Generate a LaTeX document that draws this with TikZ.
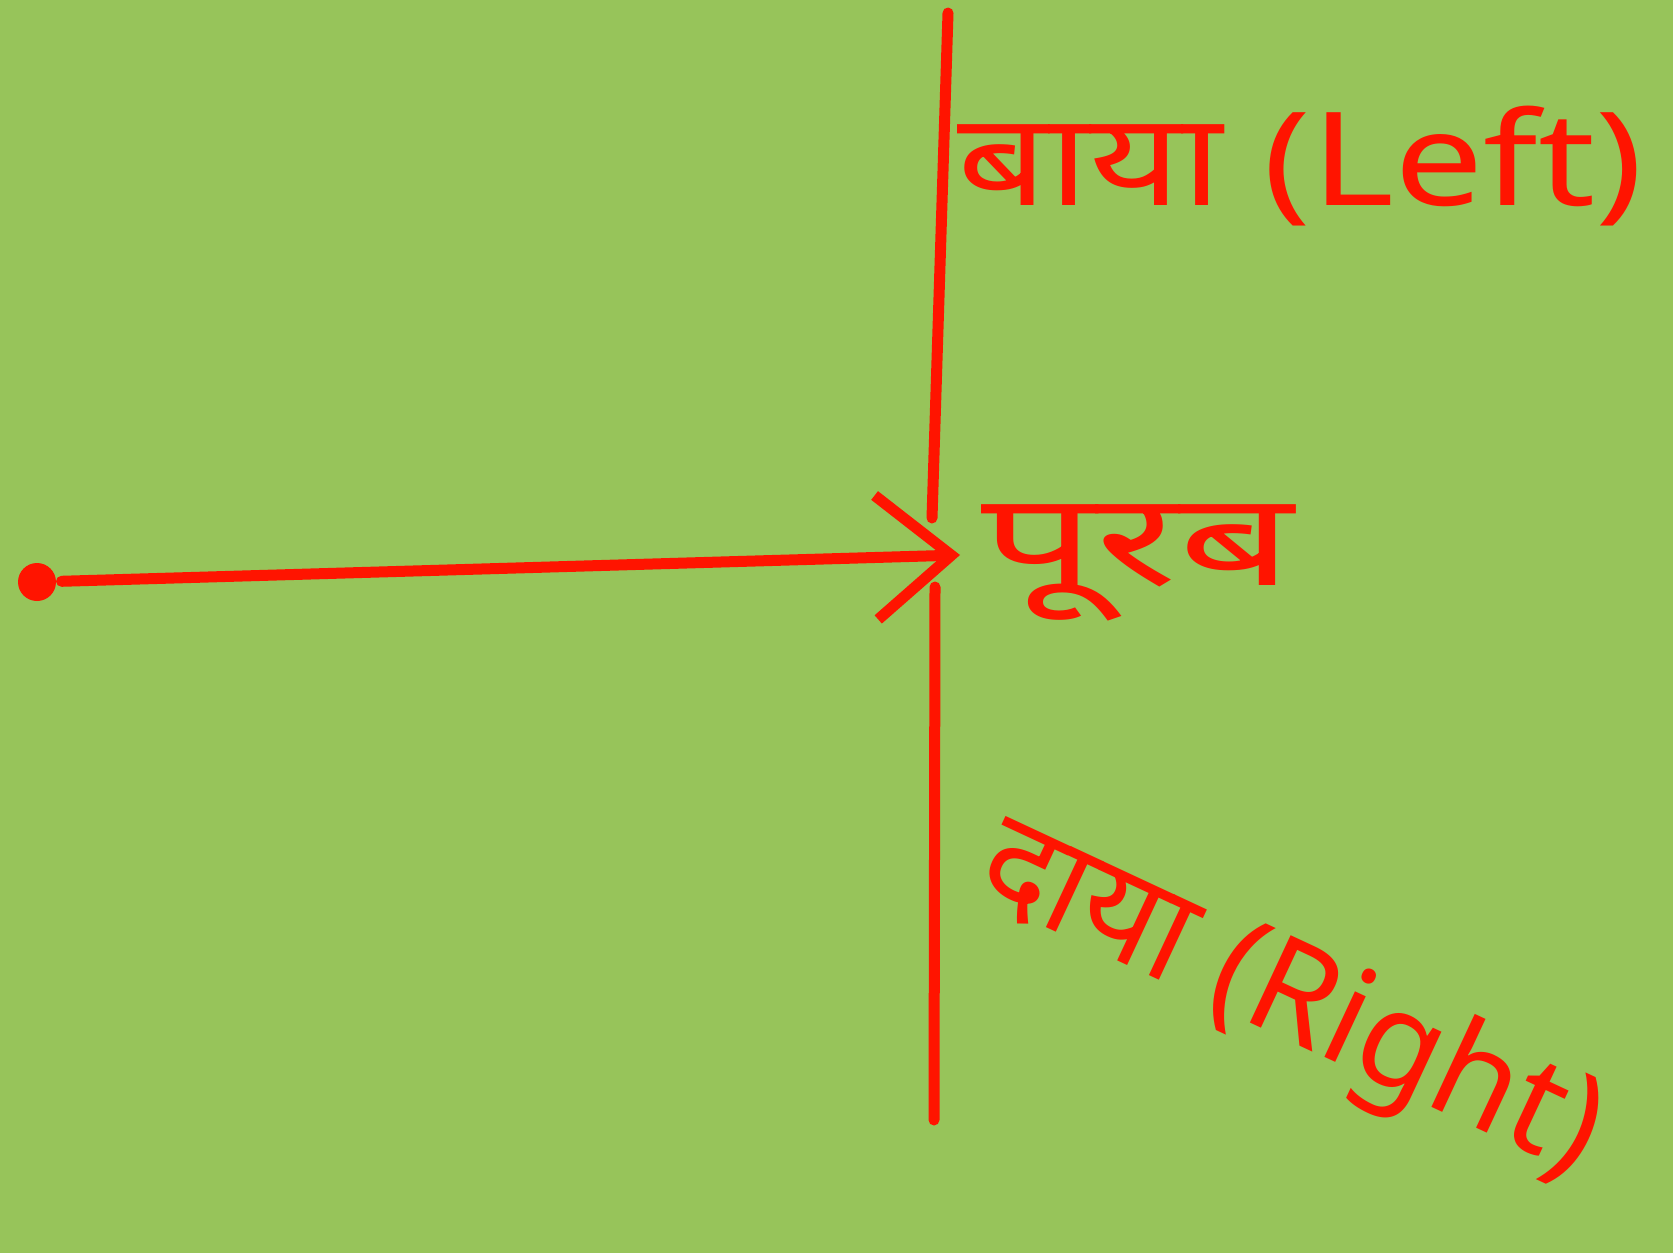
\documentclass[tikz,border=0pt]{standalone}
\usepackage{fontspec}
\newfontfamily\devfont[Script=Devanagari]{Noto Sans}
\usetikzlibrary{arrows.meta}
\definecolor{boardgreen}{RGB}{151,196,90}
\definecolor{penred}{RGB}{255,20,0}
\begin{document}
\begin{tikzpicture}[
  x=1pt,y=-1pt,line width=11pt,
  pen/.style={draw=penred,line cap=round,line join=round},
  side label/.style={text=penred,inner sep=0pt,
    font=\devfont\fontsize{130}{140}\selectfont}
]
  \fill[boardgreen] (0,0) rectangle (1673,1253);
  \useasboundingbox (0,0) rectangle (1673,1253);

  % the wall, broken where the arrow meets it
  \coordinate (wall top) at (948,13);
  \coordinate (gap top) at (932,518);
  \coordinate (gap bottom) at (935,587);
  \coordinate (wall bottom) at (934,1120);
  \draw[pen] (wall top) -- (gap top);
  \draw[pen] (gap bottom) -- (wall bottom);

  \node[circle,fill=penred,minimum size=38pt,inner sep=0pt] (start) at (37,582) {};
  \coordinate (hit) at (960,555);
  \draw[pen,-{Straight Barb[length=75pt,width=124pt]}] (start) -- (hit);

  \node[side label,anchor=base west] (left) at (952,205)
    {\scalebox{1.22}[1]{बाया (Left)}};
  \node[side label,anchor=base west] (east) at (976,585)
    {\scalebox{1.55}[1]{पूरब}};
  \node[side label,anchor=base west,rotate=-25,
    font=\devfont\fontsize{135}{140}\selectfont] (right) at (966,890) {दाया (Right)};
\end{tikzpicture}
\end{document}
